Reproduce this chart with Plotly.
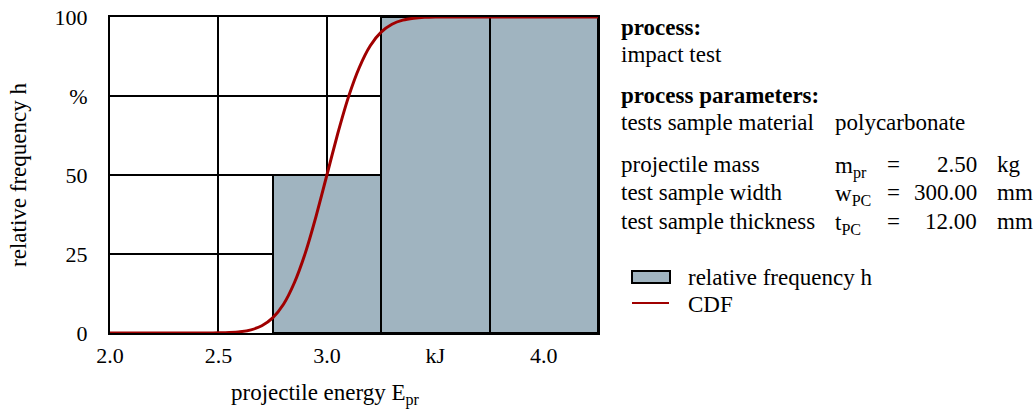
import plotly.graph_objects as go

# ---------------- data ----------------
bar_centers = [3.0, 3.5, 4.0]          # kJ
bar_widths = [0.5, 0.5, 0.5]
bar_heights = [50, 100, 100]           # relative frequency h in %

cdf_energy = [2.00, 2.10, 2.20, 2.30, 2.40, 2.45, 2.50, 2.55, 2.60, 2.65, 2.70,
              2.75, 2.80, 2.85, 2.90, 2.95, 3.00, 3.05, 3.10, 3.15, 3.20, 3.25,
              3.30, 3.35, 3.40, 3.45, 3.50, 3.60, 3.80, 4.00, 4.25]
cdf_values = [0, 0, 0, 0, 0, 0, 0.05, 0.15, 0.4, 1.0, 2.3,
              4.8, 9.1, 15.9, 25.2, 36.9, 50.0, 63.1, 74.8, 84.1, 90.9, 95.2,
              97.7, 99.0, 99.6, 99.9, 100, 100, 100, 100, 100]

x_tickvals = [2.0, 2.5, 3.0, 3.5, 4.0]
x_ticktext = ["2.0", "2.5", "3.0", "kJ", "4.0"]
y_tickvals = [0, 25, 50, 75, 100]
y_ticktext = ["0", "25", "50", "%", "100"]

BAR_COLOR = "#A0B4C0"
CDF_COLOR = "#A00000"
FONT = "Liberation Serif"

W, H = 1034, 412
L, R, T, B = 110, 598, 17, 333   # plot area in pixels


def px(x):
    return (x - L) / (R - L)


def py(y):
    return (B - y) / (B - T)


fig = go.Figure()
fig.add_trace(go.Bar(
    x=bar_centers, y=bar_heights, width=bar_widths,
    marker=dict(color=BAR_COLOR, line=dict(color="black", width=2)),
    name="relative frequency h", showlegend=False,
))
fig.add_trace(go.Scatter(
    x=cdf_energy, y=cdf_values, mode="lines",
    line=dict(color=CDF_COLOR, width=3, shape="spline", smoothing=0.6),
    name="CDF", showlegend=False, cliponaxis=False,
))

fig.update_layout(
    width=W, height=H,
    margin=dict(l=L, r=W - R, t=T, b=H - B, pad=0, autoexpand=False),
    paper_bgcolor="white", plot_bgcolor="white",
    font=dict(family=FONT, size=22, color="black"),
    bargap=0,
    showlegend=False,
)
fig.update_xaxes(
    range=[2.0, 4.25], tickvals=x_tickvals, ticktext=x_ticktext,
    showgrid=True, gridcolor="black", gridwidth=2,
    showline=True, linecolor="black", linewidth=2, mirror=True,
    zeroline=False, ticks="", ticklabelstandoff=2, automargin=False,
    tickfont=dict(family=FONT, size=22), layer="below traces",
)
fig.update_yaxes(
    range=[0, 100], tickvals=y_tickvals, ticktext=y_ticktext,
    showgrid=True, gridcolor="black", gridwidth=2,
    showline=True, linecolor="black", linewidth=2, mirror=True,
    zeroline=False, ticks="", ticklabelstandoff=16, automargin=False,
    tickfont=dict(family=FONT, size=22), layer="below traces",
    title=dict(text="relative frequency h", font=dict(family=FONT, size=23), standoff=22),
)

anns = []


def txt(x, y, s, anchor="left", size=23):
    anns.append(dict(x=px(x), y=py(y), xref="paper", yref="paper", text=s,
                     showarrow=False, xanchor=anchor, yanchor="middle",
                     font=dict(family=FONT, size=size, color="black")))


# x-axis title
txt(325, 394, "projectile energy E<sub>pr</sub>", anchor="center")

# right-hand info block
txt(619, 28, "<b>process:</b>")
txt(619, 55, "impact test")
txt(619, 95, "<b>process parameters:</b>")
txt(619, 122, "tests sample material")
txt(833, 122, "polycarbonate")

rows = [
    (164, "projectile mass", "m<sub>pr</sub>", "2.50", "kg"),
    (192, "test sample width", "w<sub>PC</sub>", "300.00", "mm"),
    (221, "test sample thickness", "t<sub>PC</sub>", "12.00", "mm"),
]
for yy, label, sym, val, unit in rows:
    txt(619, yy, label)
    txt(833, yy + 3, sym)
    txt(893, yy, "=", anchor="center")
    txt(979, yy, val, anchor="right")
    txt(995, yy, unit)

# legend
txt(686, 277, "relative frequency h")
txt(686, 304, "CDF")

shapes = [
    dict(type="rect", xref="paper", yref="paper",
         x0=px(632), x1=px(670), y0=py(283), y1=py(271),
         fillcolor=BAR_COLOR, line=dict(color="black", width=2)),
    dict(type="line", xref="paper", yref="paper",
         x0=px(632), x1=px(669), y0=py(303), y1=py(303),
         line=dict(color=CDF_COLOR, width=2)),
]

fig.update_layout(annotations=anns, shapes=shapes)
fig.write_html("out.html")
